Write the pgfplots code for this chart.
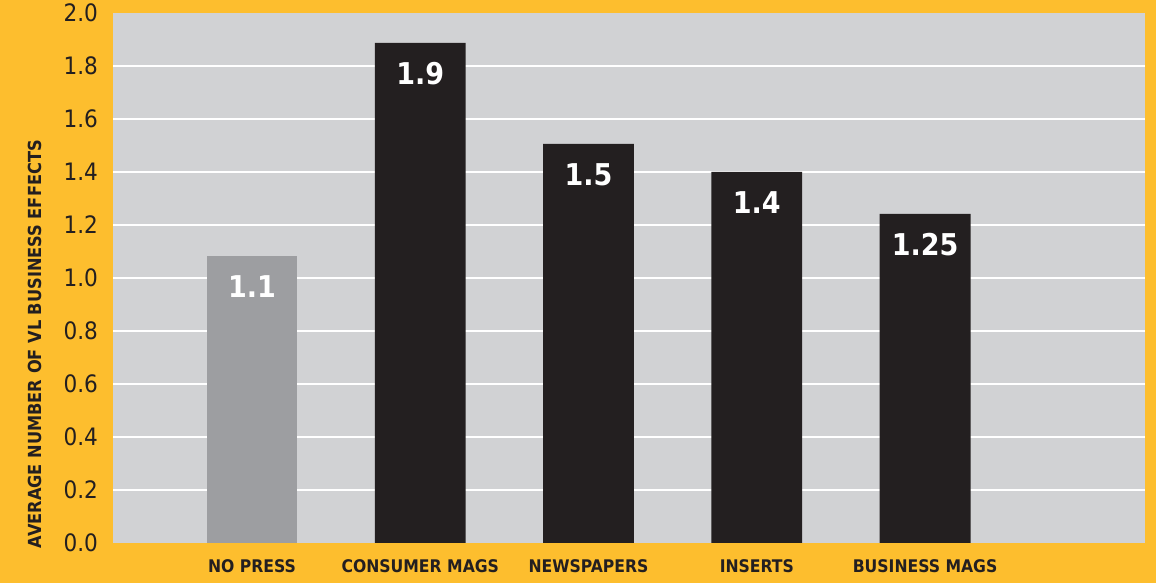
\documentclass[border=0pt]{standalone}
\usepackage{pgfplots}
\pgfplotsset{compat=1.18}
\usepackage{fontspec}
\setmainfont{DejaVu Sans Condensed}

\definecolor{bgyellow}{HTML}{FDBE2E}
\definecolor{plotgrey}{HTML}{D1D2D4}
\definecolor{barblack}{HTML}{231F20}
\definecolor{bargrey}{HTML}{9D9EA1}

\begin{document}
\begin{tikzpicture}[x=1pt,y=1pt]
% page background
\fill[bgyellow] (0,0) rectangle (578,291.5);
\useasboundingbox (0,0) rectangle (578,291.5);
\begin{axis}[
    at={(56.5pt,20pt)}, anchor=south west,
    scale only axis,
    width=516pt, height=265pt,
    xmin=-0.826, xmax=5.307,
    ymin=0, ymax=2,
    axis background/.style={fill=plotgrey},
    axis line style={draw=none},
    major tick length=0pt,
    xtick={0,1,2,3,4},
    xticklabels={NO PRESS,CONSUMER MAGS,NEWSPAPERS,INSERTS,BUSINESS MAGS},
    xticklabel style={font=\bfseries\fontsize{8.7}{10}\selectfont, text=barblack, yshift=-5pt},
    ytick={0,0.2,0.4,0.6,0.8,1.0,1.2,1.4,1.6,1.8,2.0},
    yticklabel style={font=\fontsize{12}{14}\selectfont, text=barblack, xshift=-4pt,
        /pgf/number format/.cd, fixed, fixed zerofill, precision=1, assume math mode=true},
    extra y ticks={0.2,0.4,0.6,0.8,1.0,1.2,1.4,1.6,1.8},
    extra y tick labels={},
    extra y tick style={ymajorgrids=true, major grid style={white, line width=1pt}},
    ylabel={AVERAGE NUMBER OF VL BUSINESS EFFECTS},
    every axis y label/.style={at={(axis description cs:-0.0756,0.375)}, rotate=90, anchor=center,
        font=\bfseries\fontsize{9}{11}\selectfont, text=barblack},
    ybar, bar width=0.54, bar shift=0pt,
    point meta=explicit symbolic,
    nodes near coords,
    every node near coord/.append style={anchor=north, yshift=-9.5pt, inner sep=0pt,
        text=white, font=\bfseries\fontsize{15}{17}\selectfont},
    clip=false,
]
\addplot[fill=bargrey, draw=none] coordinates {(0,1.083) [1.1]};
\addplot[fill=barblack, draw=none] coordinates {
    (1,1.887) [1.9]
    (2,1.506) [1.5]
    (3,1.400) [1.4]
    (4,1.242) [1.25]
};
\end{axis}
\end{tikzpicture}
\end{document}
